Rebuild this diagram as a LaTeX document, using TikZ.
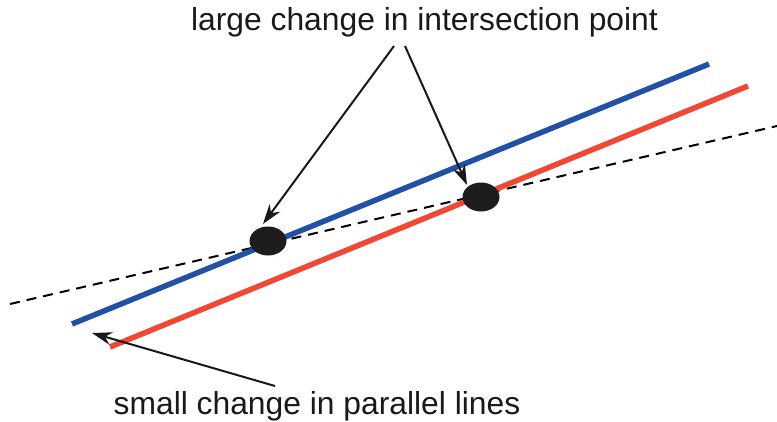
\documentclass[tikz,border=0pt]{standalone}
\usepackage{fontspec}
\setmainfont{Liberation Sans}
\usetikzlibrary{arrows.meta,shapes.geometric}
\definecolor{lineblue}{RGB}{34,80,165}
\definecolor{linered}{RGB}{240,72,52}
\definecolor{dotblack}{RGB}{30,28,30}
\tikzset{
  thickline/.style={line width=5.5pt},
  dashline/.style={line width=2pt, dash pattern=on 10pt off 7pt, black},
  dotnode/.style={ellipse, fill=dotblack, minimum width=37pt, minimum height=29pt, inner sep=0pt},
  labeltext/.style={font=\fontsize{31.8}{36}\selectfont, inner sep=0pt, text=black!90},
  pointer/.style={line width=2pt, -{Stealth[length=20pt,width=13pt]}, black!90}
}
\begin{document}
\begin{tikzpicture}[x=1pt,y=-1pt]
\useasboundingbox (0,0) rectangle (777,421);
\coordinate (b1) at (72,324);
\coordinate (b2) at (709,64);
\coordinate (r1) at (110,347);
\coordinate (r2) at (748,86);
\coordinate (d1) at (10,304);
\coordinate (d2) at (777,126);
\draw[dashline] (d1) -- (d2);
\draw[thickline, lineblue] (b1) -- (b2);
\draw[thickline, linered] (r1) -- (r2);
\node[dotnode] (p1) at (268,241) {};
\node[dotnode] (p2) at (481,197) {};
\node[labeltext] (top) at (424.5,22) {large change in intersection point};
\node[labeltext] (bot) at (317,406) {small change in parallel lines};
\coordinate (s1) at (394,46);
\coordinate (s2) at (405,46);
\coordinate (t1) at (263,224);
\coordinate (t2) at (467,185);
\coordinate (s3) at (275,386);
\coordinate (t3) at (92,333);
\draw[pointer] (s1) -- (t1);
\draw[pointer] (s2) -- (t2);
\draw[pointer] (s3) -- (t3);
\end{tikzpicture}
\end{document}
